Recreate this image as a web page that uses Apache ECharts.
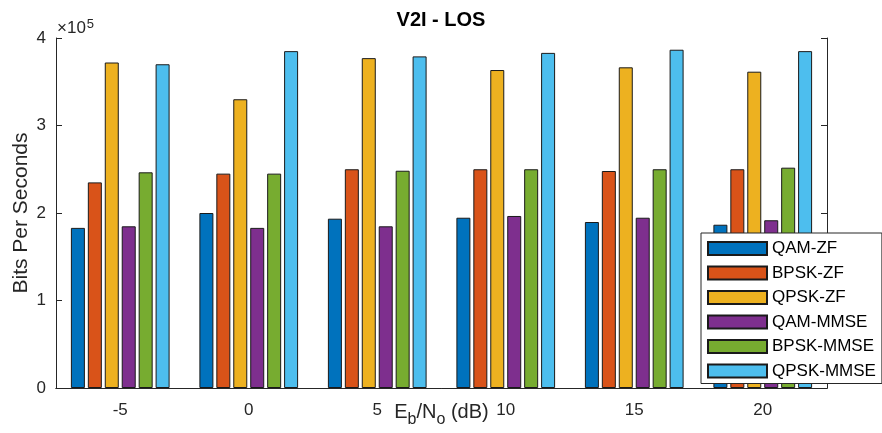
<!DOCTYPE html>
<html>
<head>
<meta charset="utf-8">
<script src="https://cdn.jsdelivr.net/npm/echarts@6/dist/echarts.min.js"></script>
<style>html,body{margin:0;padding:0;background:#fff}#c{width:882px;height:433px}</style>
</head>
<body>
<div id="c"></div>
<script>
const categories = ['-5', '0', '5', '10', '15', '20'];
const seriesNames = ['QAM-ZF', 'BPSK-ZF', 'QPSK-ZF', 'QAM-MMSE', 'BPSK-MMSE', 'QPSK-MMSE'];
const qamZF    = [183000, 200000, 193500, 194600, 189700, 186600];
const bpskZF   = [235000, 245000, 250000, 250000, 248000, 250000];
const qpskZF   = [372000, 330000, 377000, 363400, 366500, 361500];
const qamMMSE  = [184800, 183000, 184800, 196600, 194600, 191700];
const bpskMMSE = [246500, 245000, 248300, 250000, 250000, 251800];
const qpskMMSE = [370000, 385000, 379000, 383000, 386600, 385000];
const yTicks = [0, 100000, 200000, 300000, 400000];
const colors = ['#0072BD', '#D95319', '#EDB120', '#7E2F8E', '#77AC30', '#4DBEEE'];
const allData = [qamZF, bpskZF, qpskZF, qamMMSE, bpskMMSE, qpskMMSE];

const axisColor = '#262626';
const font = 'Liberation Sans, Arial, Helvetica, sans-serif';

const chart = echarts.init(document.getElementById('c'), null, {renderer: 'canvas'});
const option = {
  backgroundColor: '#fff',
  animation: false,
  textStyle: {fontFamily: font},
  title: {
    text: 'V2I - LOS', left: 'center', top: 5,
    textStyle: {fontSize: 20, fontWeight: 'bold', color: '#000', fontFamily: font}
  },
  grid: {left: 56, right: 55, top: 38, bottom: 45, containLabel: false, outerBoundsMode: 'none'},
  legend: {
    orient: 'vertical', left: 701, top: 233,
    data: seriesNames,
    icon: 'rect', itemWidth: 59, itemHeight: 13, itemGap: 7.5,
    padding: [7, 6, 4, 6],
    backgroundColor: '#fff', borderColor: axisColor, borderWidth: 1,
    textStyle: {fontSize: 17, color: '#000', lineHeight: 17, fontFamily: font}
  },
  graphic: [{
    type: 'text', left: 57, top: 18,
    style: {
      text: '{a|×10}{s|5}',
      rich: {
        a: {fontSize: 17, fill: axisColor, fontFamily: font, verticalAlign: 'bottom'},
        s: {fontSize: 13, fill: axisColor, fontFamily: font, verticalAlign: 'top', padding: [0, 0, 6, 1]}
      }
    }
  }],
  xAxis: [{
    type: 'category', data: categories, position: 'bottom',
    axisLine: {lineStyle: {color: axisColor, width: 1}},
    axisTick: {inside: true, alignWithLabel: true, length: 6, lineStyle: {color: axisColor}},
    axisLabel: {color: axisColor, fontSize: 17, margin: 14, fontFamily: font},
    name: '{n|E}{sub|b}{n|/N}{sub|o}{n| (dB)}',
    nameLocation: 'middle', nameGap: 14, nameMoveOverlap: false,
    nameTextStyle: {
      rich: {
        n: {fontSize: 20, color: axisColor, fontFamily: font, verticalAlign: 'top'},
        sub: {fontSize: 16, color: axisColor, fontFamily: font, verticalAlign: 'top', padding: [10, 0, 0, 0]}
      }
    },
    z: 10
  }, {
    type: 'category', data: categories, position: 'top',
    axisLine: {lineStyle: {color: axisColor, width: 1}},
    axisTick: {inside: true, alignWithLabel: true, length: 6, lineStyle: {color: axisColor}},
    axisLabel: {show: false}
  }],
  yAxis: [{
    type: 'value', min: yTicks[0], max: yTicks[yTicks.length - 1], interval: 100000, position: 'left',
    axisLine: {show: true, lineStyle: {color: axisColor, width: 1}},
    axisTick: {show: true, inside: true, length: 6, lineStyle: {color: axisColor}},
    axisLabel: {color: axisColor, fontSize: 17, margin: 10, fontFamily: font, formatter: v => String(v / 100000)},
    splitLine: {show: false},
    name: 'Bits Per Seconds', nameLocation: 'middle', nameGap: 24, nameMoveOverlap: false,
    nameTextStyle: {fontSize: 21, color: axisColor, fontFamily: font}
  }, {
    type: 'value', min: yTicks[0], max: yTicks[yTicks.length - 1], interval: 100000, position: 'right',
    axisLine: {show: true, lineStyle: {color: axisColor, width: 1}},
    axisTick: {show: true, inside: true, length: 6, lineStyle: {color: axisColor}},
    axisLabel: {show: false},
    splitLine: {show: false}
  }],
  series: seriesNames.map((name, i) => ({
    name: name, type: 'bar', data: allData[i],
    xAxisIndex: 0, yAxisIndex: 0,
    barWidth: 14, barGap: '21%',
    itemStyle: {color: colors[i], borderColor: '#1a1a1a', borderWidth: 1}
  }))
};
chart.setOption(option);
</script>
</body>
</html>
